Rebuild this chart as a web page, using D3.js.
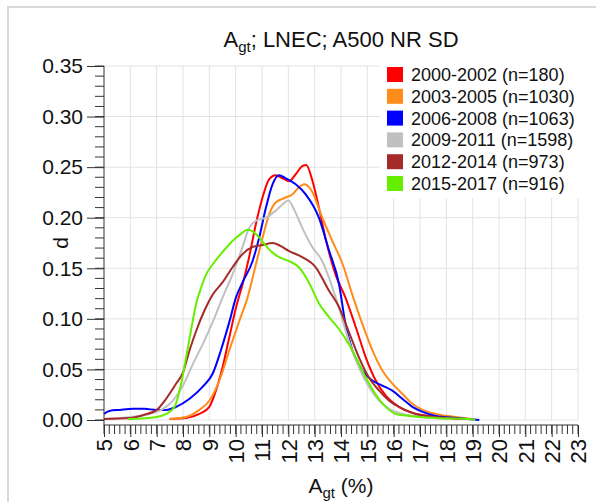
<!DOCTYPE html>
<html>
<head>
<meta charset="utf-8">
<script src="https://cdn.jsdelivr.net/npm/d3@7"></script>
<style>
  body { margin: 0; background: #fff; }
  svg text { font-family: "Liberation Sans", Arial, sans-serif; fill: #111; }
</style>
</head>
<body>
<div id="chart"></div>
<script>
// periods shown in the legend
var periods = ["2000-2002 (n=180)", "2003-2005 (n=1030)", "2006-2008 (n=1063)",
               "2009-2011 (n=1598)", "2012-2014 (n=973)", "2015-2017 (n=916)"];
var colors = ["#ff0000", "#ff8c1a", "#0000ff", "#c0c0c0", "#a52a2a", "#66ee00"];

// density curves, [Agt %, d]
var d2000 = [[7.49,0.001],[8.12,0.002],[8.62,0.006],[9.0,0.013],[9.25,0.029],[9.5,0.052],[9.76,0.082],[10.01,0.111],[10.26,0.134],[10.51,0.161],[10.77,0.194],[11.02,0.220],[11.27,0.238],[11.52,0.242],[11.78,0.239],[12.03,0.236],[12.28,0.243],[12.53,0.251],[12.68,0.252],[12.91,0.237],[13.16,0.210],[13.41,0.180],[13.79,0.144],[14.17,0.121],[14.56,0.092],[14.94,0.062],[15.32,0.039],[15.7,0.024],[16.2,0.013],[16.71,0.007],[17.35,0.004],[18.1,0.002],[18.9,0.001]];
var d2003 = [[7.49,0.001],[8.12,0.003],[8.62,0.010],[9.0,0.019],[9.38,0.039],[9.76,0.069],[10.14,0.098],[10.45,0.121],[10.77,0.154],[11.02,0.180],[11.27,0.203],[11.52,0.215],[11.9,0.220],[12.15,0.223],[12.4,0.230],[12.62,0.233],[12.9,0.226],[13.29,0.200],[13.67,0.177],[14.05,0.155],[14.43,0.124],[14.81,0.095],[15.19,0.069],[15.57,0.049],[15.95,0.036],[16.33,0.026],[16.71,0.016],[17.1,0.010],[17.6,0.006],[18.37,0.003],[19.0,0.001]];
var d2006 = [[5.0,0.006],[5.2,0.009],[5.6,0.010],[6.1,0.011],[6.54,0.011],[7.0,0.010],[7.36,0.010],[7.74,0.013],[8.25,0.021],[8.75,0.033],[9.13,0.046],[9.44,0.069],[9.76,0.097],[10.01,0.121],[10.26,0.136],[10.64,0.157],[10.89,0.180],[11.15,0.210],[11.4,0.233],[11.65,0.242],[11.9,0.239],[12.28,0.233],[12.66,0.223],[13.16,0.200],[13.54,0.168],[13.92,0.135],[14.17,0.095],[14.43,0.069],[14.81,0.049],[15.19,0.039],[15.57,0.034],[15.95,0.029],[16.33,0.021],[16.71,0.013],[17.1,0.008],[17.6,0.004],[18.37,0.002],[19.25,0.0]];
var d2009 = [[5.0,0.001],[6.0,0.003],[6.73,0.006],[7.24,0.011],[7.61,0.019],[8.0,0.034],[8.37,0.055],[8.75,0.075],[9.13,0.097],[9.5,0.121],[9.88,0.144],[10.26,0.171],[10.51,0.190],[10.77,0.197],[11.15,0.200],[11.52,0.207],[11.78,0.213],[12.0,0.217],[12.22,0.208],[12.53,0.190],[12.91,0.171],[13.29,0.157],[13.54,0.141],[13.92,0.111],[14.3,0.078],[14.68,0.052],[15.06,0.033],[15.45,0.019],[15.83,0.011],[16.35,0.006],[17.1,0.003],[18.1,0.001]];
var d2012 = [[5.0,0.001],[6.0,0.002],[6.5,0.005],[7.0,0.010],[7.36,0.021],[7.74,0.036],[8.0,0.047],[8.25,0.069],[8.5,0.088],[8.81,0.108],[9.13,0.124],[9.5,0.136],[9.88,0.151],[10.26,0.164],[10.64,0.171],[11.02,0.173],[11.4,0.175],[11.71,0.172],[12.03,0.167],[12.53,0.161],[13.04,0.151],[13.54,0.128],[13.92,0.112],[14.3,0.087],[14.68,0.062],[15.06,0.042],[15.45,0.029],[15.83,0.019],[16.35,0.011],[16.84,0.006],[17.6,0.003],[18.6,0.001]];
var d2015 = [[5.9,0.001],[7.0,0.003],[7.36,0.006],[7.68,0.013],[7.93,0.036],[8.12,0.062],[8.3,0.088],[8.5,0.115],[8.69,0.131],[8.88,0.144],[9.13,0.154],[9.5,0.166],[9.88,0.177],[10.2,0.184],[10.45,0.188],[10.77,0.184],[11.0,0.177],[11.33,0.167],[11.65,0.161],[12.03,0.157],[12.4,0.151],[12.78,0.136],[13.17,0.115],[13.54,0.102],[13.92,0.090],[14.3,0.075],[14.56,0.062],[14.94,0.042],[15.3,0.026],[15.7,0.013],[16.08,0.006],[16.6,0.004],[17.6,0.002],[18.87,0.001],[19.1,0.0]];
var series = [d2000, d2003, d2006, d2009, d2012, d2015];

var xTicks = d3.range(5, 24, 1);
var yTicks = [0, 0.05, 0.10, 0.15, 0.20, 0.25, 0.30, 0.35];

(function () {
  var W = 596, H = 502;
  var pLeft = 104, pRight = 578, pTop = 66, pBottom = 420;

  var svg = d3.select("#chart").append("svg")
    .attr("width", W)
    .attr("height", H);

  // outer frame
  svg.append("rect")
    .attr("x", 8).attr("y", 7)
    .attr("width", 620).attr("height", 620)
    .attr("fill", "none")
    .attr("stroke", "#d9d9d9")
    .attr("stroke-width", 2);

  var x = d3.scaleLinear().domain([5, 23]).range([pLeft, pRight]);
  var y = d3.scaleLinear().domain([0, 0.35]).range([pBottom, pTop]);

  // grid
  svg.append("g").selectAll("line")
    .data(xTicks.slice(1))
    .enter().append("line")
    .attr("x1", function(d){ return x(d); })
    .attr("x2", function(d){ return x(d); })
    .attr("y1", pTop).attr("y2", pBottom)
    .attr("stroke", "#e2e2e2").attr("stroke-width", 1);
  svg.append("g").selectAll("line")
    .data(yTicks)
    .enter().append("line")
    .attr("x1", pLeft).attr("x2", pRight)
    .attr("y1", function(d){ return y(d); })
    .attr("y2", function(d){ return y(d); })
    .attr("stroke", "#e2e2e2").attr("stroke-width", 1);

  // curves
  var line = d3.line()
    .x(function(d){ return x(d[0]); })
    .y(function(d){ return y(d[1]); })
    .curve(d3.curveMonotoneX);

  svg.append("g").selectAll("path")
    .data(series)
    .enter().append("path")
    .attr("d", line)
    .attr("fill", "none")
    .attr("stroke", function(d, i){ return colors[i]; })
    .attr("stroke-width", 2);

  // legend box covers the grid
  var legend = svg.append("g");
  legend.append("rect")
    .attr("x", 380).attr("y", pTop - 1)
    .attr("width", pRight - 380 + 1).attr("height", 199 - pTop)
    .attr("fill", "#fff");
  legend.selectAll("rect.sw")
    .data(periods)
    .enter().append("rect")
    .attr("class", "sw")
    .attr("x", 387)
    .attr("y", function(d, i){ return 67 + i * 21.8; })
    .attr("width", 16).attr("height", 15)
    .attr("fill", function(d, i){ return colors[i]; });
  legend.selectAll("text")
    .data(periods)
    .enter().append("text")
    .attr("x", 411)
    .attr("y", function(d, i){ return 81 + i * 21.8; })
    .attr("font-size", 18)
    .text(function(d){ return d; });

  // y axis
  var yAxis = svg.append("g")
    .attr("transform", "translate(" + pLeft + ",0)")
    .call(d3.axisLeft(y).tickValues(yTicks).tickFormat(d3.format(".2f")).tickSize(17).tickPadding(4));
  yAxis.select(".domain").remove();
  yAxis.append("line")
    .attr("x1", 0).attr("x2", 0)
    .attr("y1", pTop).attr("y2", 426)
    .attr("stroke", "#333");
  yAxis.selectAll(".minor")
    .data(d3.range(0, 0.351, 0.01))
    .enter().append("line")
    .attr("x1", -9).attr("x2", 0)
    .attr("y1", function(d){ return y(d); })
    .attr("y2", function(d){ return y(d); })
    .attr("stroke", "#333");
  yAxis.selectAll(".tick line").attr("stroke", "#333");
  yAxis.selectAll(".tick text")
    .attr("font-size", 21)
    .attr("fill", "#111");

  // x axis, offset below the plot
  var xAxisY = 425;
  var xAxis = svg.append("g")
    .attr("transform", "translate(0," + xAxisY + ")")
    .call(d3.axisBottom(x).tickValues(xTicks).tickFormat(d3.format("d")).tickSize(12).tickPadding(3));
  xAxis.select(".domain").remove();
  xAxis.append("line")
    .attr("x1", pLeft).attr("x2", pRight)
    .attr("y1", 0).attr("y2", 0)
    .attr("stroke", "#333");
  xAxis.selectAll(".minor")
    .data(d3.range(5, 23.001, 0.2))
    .enter().append("line")
    .attr("x1", function(d){ return x(d); })
    .attr("x2", function(d){ return x(d); })
    .attr("y1", 0).attr("y2", 9)
    .attr("stroke", "#333");
  xAxis.selectAll(".tick line").attr("stroke", "#333");
  xAxis.selectAll(".tick text")
    .attr("font-size", 22)
    .attr("fill", "#111")
    .attr("text-anchor", "end")
    .attr("transform", "translate(0,14) rotate(-90)")
    .attr("x", 0).attr("y", 0)
    .attr("dy", "0.35em");

  // titles
  var title = svg.append("text")
    .attr("x", (pLeft + pRight) / 2)
    .attr("y", 47)
    .attr("text-anchor", "middle")
    .attr("font-size", 22);
  title.append("tspan").text("A");
  title.append("tspan").attr("font-size", 15).attr("dy", 5).text("gt");
  title.append("tspan").attr("dy", -5).text("; LNEC; A500 NR SD");

  var xlab = svg.append("text")
    .attr("x", (pLeft + pRight) / 2)
    .attr("y", 493)
    .attr("text-anchor", "middle")
    .attr("font-size", 21);
  xlab.append("tspan").text("A");
  xlab.append("tspan").attr("font-size", 15).attr("dy", 5).text("gt");
  xlab.append("tspan").attr("dy", -5).text(" (%)");

  svg.append("text")
    .attr("transform", "translate(68,243) rotate(-90)")
    .attr("text-anchor", "middle")
    .attr("font-size", 21)
    .text("d");
})();
</script>
</body>
</html>
